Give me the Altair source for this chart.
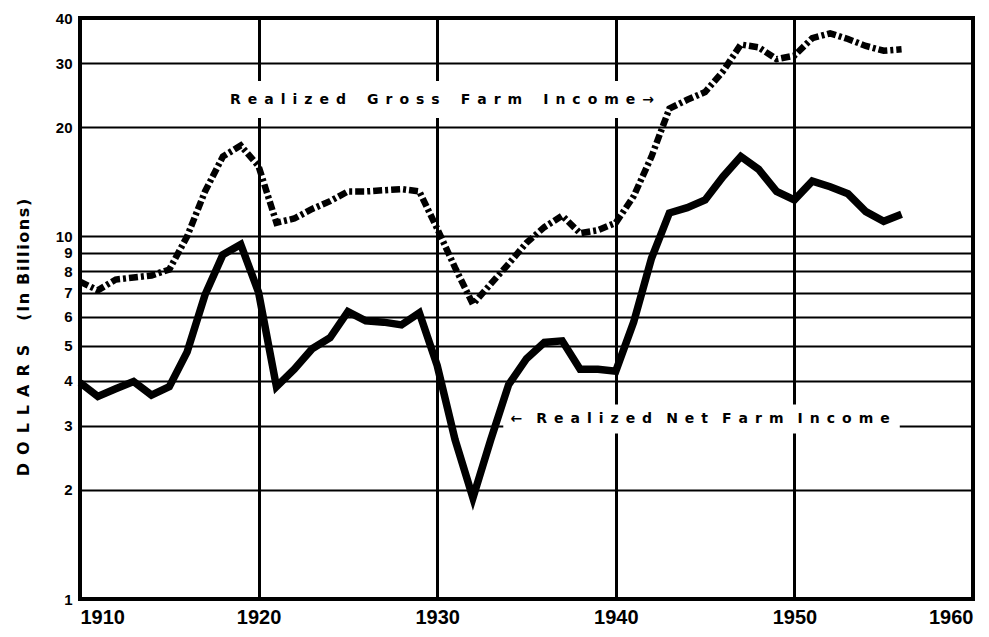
import altair as alt
import pandas as pd

years = list(range(1910, 1957))
gross = [7.5, 7.1, 7.6, 7.7, 7.8, 8.1, 10.0, 13.3, 16.6, 17.8,
         15.6, 10.9, 11.2, 11.9, 12.5, 13.3, 13.3, 13.4, 13.5, 13.3,
         10.5, 8.2, 6.5, 7.4, 8.4, 9.6, 10.6, 11.4, 10.2, 10.4,
         10.9, 12.9, 16.6, 22.5, 23.8, 25.0, 28.5, 33.8, 33.2, 30.8,
         31.5, 35.2, 36.3, 35.0, 33.5, 32.5, 32.8]
net = [3.95, 3.62, 3.8, 3.98, 3.65, 3.85, 4.8, 6.9, 8.9, 9.5,
       7.0, 3.85, 4.3, 4.9, 5.25, 6.2, 5.85, 5.8, 5.7, 6.15,
       4.4, 2.75, 1.9, 2.75, 3.9, 4.6, 5.1, 5.15, 4.3, 4.3,
       4.25, 5.8, 8.7, 11.6, 12.0, 12.6, 14.6, 16.6, 15.3, 13.3,
       12.6, 14.2, 13.7, 13.1, 11.7, 11.0, 11.5]

y_ticks = [1, 2, 3, 4, 5, 6, 7, 8, 9, 10, 20, 30, 40]
x_ticks = [1910, 1920, 1930, 1940, 1950, 1960]

S = "\u2002"  # en space between letters
H = "\u200a"  # hair space
W3 = S * 3
W2 = S * 2
labels = [
    W3.join(S.join(w) for w in ["Realized", "Gross", "Farm", "Income"]) + S + "\u2192",
    "\u2190" + S + S + W2.join(S.join(w) for w in ["Realized", "Net", "Farm", "Income"]),
]
label_x = [1918.4, 1934.1]
label_y = [23.7, 3.13]
box_x = [1917.9, 1933.7]
box_x2 = [1942.5, 1955.9]
box_y = [21.2, 2.86]
box_y2 = [26.8, 3.44]
y_title = S.join("DOLLARS") + W3 + H.join("(In") + S + H.join("Billions)")

df = pd.DataFrame({"year": years, "gross": gross, "net": net})
ann = pd.DataFrame({"text": labels, "x": label_x, "y": label_y,
                    "bx": box_x, "bx2": box_x2, "by": box_y, "by2": box_y2})

num_font = "'Liberation Sans Narrow', 'Liberation Sans'"
txt_font = "DejaVu Sans"

xscale = alt.Scale(domain=[1910, 1960], nice=False, zero=False)
yscale = alt.Scale(type="log", domain=[1, 40], nice=False)

xaxis = alt.Axis(values=x_ticks, format="d", title=None, grid=True,
                 gridColor="black", gridWidth=3, gridOpacity=1,
                 ticks=False, domain=False, labelFont=num_font,
                 labelFontSize=20, labelFontWeight="bold", labelColor="black",
                 labelPadding=8, labelOverlap=False)
yaxis = alt.Axis(values=y_ticks, format="d", title=y_title, grid=True,
                 gridColor="black", gridWidth=2.2, gridOpacity=1,
                 ticks=False, domain=False, labelFont=num_font,
                 labelFontSize=15, labelFontWeight="bold", labelColor="black",
                 labelPadding=8, labelOverlap=False,
                 titleFont=txt_font, titleFontSize=16,
                 titleFontWeight="bold", titleColor="black", titleAngle=270,
                 titleX=-57, titleY=319, titleAlign="center",
                 titleBaseline="middle")

gross_line = alt.Chart(df).mark_line(
    color="black", strokeWidth=6.5, strokeDash=[9, 3, 3, 3], strokeCap="butt"
).encode(
    x=alt.X("year:Q", scale=xscale, axis=xaxis),
    y=alt.Y("gross:Q", scale=yscale, axis=yaxis),
)

net_line = alt.Chart(df).mark_line(
    color="black", strokeWidth=7.5, strokeJoin="miter"
).encode(
    x=alt.X("year:Q", scale=xscale, axis=xaxis),
    y=alt.Y("net:Q", scale=yscale, axis=yaxis),
)

boxes = alt.Chart(ann).mark_rect(color="white").encode(
    x=alt.X("bx:Q", scale=xscale, axis=xaxis),
    x2="bx2:Q",
    y=alt.Y("by:Q", scale=yscale, axis=yaxis),
    y2="by2:Q",
)

texts = alt.Chart(ann).mark_text(
    align="left", baseline="middle", font=txt_font, fontWeight="bold",
    fontSize=14, color="black"
).encode(
    x=alt.X("x:Q", scale=xscale, axis=xaxis),
    y=alt.Y("y:Q", scale=yscale, axis=yaxis),
    text="text:N",
)

chart = alt.layer(gross_line, boxes, net_line, texts).properties(
    width=893, height=581,
    autosize=alt.AutoSizeParams(type="none"),
    padding={"left": 72, "top": 10, "right": 8, "bottom": 34},
    background="white",
).configure_view(stroke="black", strokeWidth=4)

chart.save("out.html", embed_options={"renderer": "svg", "actions": False})
